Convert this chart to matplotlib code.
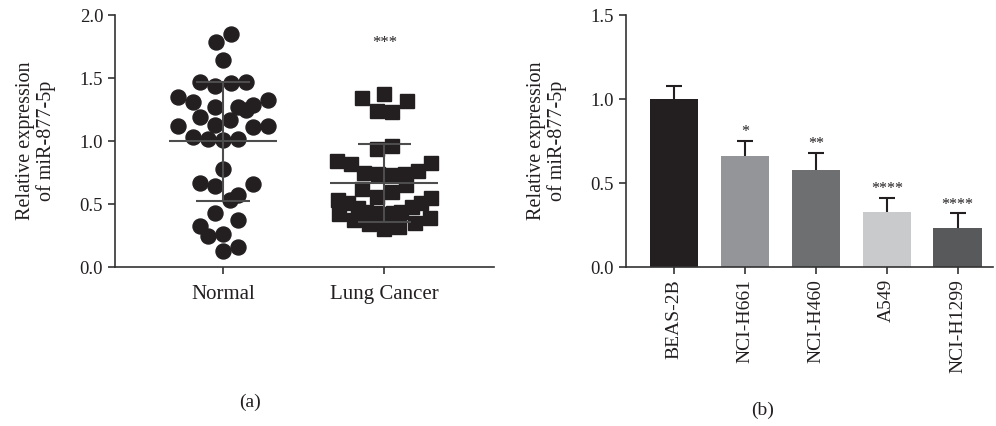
import matplotlib
matplotlib.use("Agg")
import matplotlib.pyplot as plt
import numpy as np

plt.rcParams['font.family'] = ['Liberation Serif', 'DejaVu Serif']

# (a) scatter: values, with horizontal spread (category units)
normal_vals = [1.85, 1.79, 1.64, 1.47, 1.44, 1.46, 1.47, 1.35, 1.31, 1.27, 1.27, 1.25,
               1.29, 1.33, 1.19, 1.17, 1.13, 1.12, 1.11, 1.12, 1.03, 1.02, 1.01, 1.02,
               0.78, 0.67, 0.64, 0.66, 0.57, 0.53, 0.43, 0.37, 0.33, 0.25, 0.26, 0.13, 0.16]
normal_jit = [0.048, -0.045, 0.0, -0.143, -0.048, 0.048, 0.141, -0.281, -0.188, -0.048,
              0.091, 0.139, 0.188, 0.280, -0.143, 0.045, -0.048, -0.281, 0.188, 0.280,
              -0.188, -0.093, 0.0, 0.091, 0.0, -0.143, -0.048, 0.188, 0.093, 0.043,
              -0.048, 0.091, -0.143, -0.093, 0.0, 0.0, 0.091]
cancer_vals = [1.34, 1.37, 1.32, 1.24, 1.23, 0.94, 0.96, 0.84, 0.82, 0.83, 0.75, 0.74,
               0.73, 0.74, 0.76, 0.65, 0.62, 0.56, 0.60, 0.53, 0.51, 0.55, 0.51, 0.48,
               0.47, 0.44, 0.43, 0.42, 0.43, 0.44, 0.42, 0.37, 0.34, 0.30, 0.32, 0.35, 0.39]
cancer_jit = [-0.141, 0.0, 0.140, -0.048, 0.047, -0.048, 0.047, -0.292, -0.209, 0.292,
              -0.124, -0.040, 0.043, 0.126, 0.207, 0.137, -0.141, -0.048, 0.047, -0.288,
              -0.226, 0.292, 0.230, 0.174, -0.164, -0.112, -0.050, 0.002, 0.053, 0.106,
              -0.282, -0.191, -0.096, -0.002, 0.091, 0.188, 0.281]
groups = ['Normal', 'Lung Cancer']

# (b) bars
cells = ['BEAS-2B', 'NCI-H661', 'NCI-H460', 'A549', 'NCI-H1299']
means = [1.00, 0.66, 0.58, 0.33, 0.23]
errs = [0.08, 0.09, 0.10, 0.08, 0.09]
stars = ['', '*', '**', '****', '****']
colors = ['#231f20', '#939598', '#6d6f70', '#c9cacb', '#58595b']

ylabel = 'Relative expression\nof miR-877-5p'
spine_c = '#333333'

fig = plt.figure(figsize=(9.96, 4.26), dpi=100)
ax1 = fig.add_axes([0.1155, 0.373, 0.3805, 0.5915])
ax2 = fig.add_axes([0.6285, 0.373, 0.3685, 0.5915])

for ax in (ax1, ax2):
    for s in ('top', 'right'):
        ax.spines[s].set_visible(False)
    for s in ('left', 'bottom'):
        ax.spines[s].set_color(spine_c)
        ax.spines[s].set_linewidth(1.2)
    ax.tick_params(direction='out', length=5, width=1.2, color=spine_c)
    ax.set_ylabel(ylabel, fontsize=14.5, color='#231f20', linespacing=1.05, labelpad=17)

# ---- (a)
nv = np.array(normal_vals)
cv = np.array(cancer_vals)
ax1.plot(0 + np.array(normal_jit), nv, 'o', ms=10.8, color='#231f20', mec='#231f20')
ax1.plot(1 + np.array(cancer_jit), cv, 's', ms=10, color='#231f20', mec='#231f20')
for i, v in enumerate([nv, cv]):
    m, sd = v.mean(), v.std(ddof=1)
    ax1.hlines(m, i - 0.335, i + 0.335, color='#4d4d4d', lw=1.5, zorder=3)
    ax1.hlines([m - sd, m + sd], i - 0.165, i + 0.165, color='#4d4d4d', lw=1.5, zorder=3)
    ax1.vlines(i, m - sd, m + sd, color='#4d4d4d', lw=1.5, zorder=3)
ax1.text(1, 1.78, '***', ha='center', va='center', fontsize=12, color='#231f20')
ax1.set_xlim(-0.67, 1.68)
ax1.set_ylim(0, 2.0)
ax1.set_yticks([0, 0.5, 1.0, 1.5, 2.0])
ax1.set_yticklabels(['0.0', '0.5', '1.0', '1.5', '2.0'], fontsize=13.5, color='#231f20')
ax1.set_xticks([0, 1])
ax1.set_xticklabels(groups, fontsize=15, color='#231f20')
ax1.tick_params(axis='x', pad=8)

# ---- (b)
x = np.arange(len(cells))
ax2.bar(x, means, width=0.68, color=colors, zorder=2)
eb = ax2.errorbar(x, means, yerr=[np.zeros(len(errs)), errs], fmt='none', ecolor='#231f20',
                  elinewidth=1.5, capsize=6, capthick=1.5, zorder=3)
eb[1][0].set_visible(False)  # no lower caps
for xi, m, e, s in zip(x, means, errs, stars):
    if s:
        ax2.text(xi, m + e + 0.052, s, ha='center', va='center', fontsize=11.5, color='#231f20')
ax2.set_xlim(-0.68, 4.5)
ax2.set_ylim(0, 1.5)
ax2.set_yticks([0, 0.5, 1.0, 1.5])
ax2.set_yticklabels(['0.0', '0.5', '1.0', '1.5'], fontsize=13.5, color='#231f20')
ax2.set_xticks(x)
ax2.set_xticklabels(cells, rotation=90, fontsize=14, color='#231f20')

fig.text(250 / 996, 1 - 402 / 426, '(a)', ha='center', va='center', fontsize=14, color='#231f20')
fig.text(763 / 996, 1 - 410 / 426, '(b)', ha='center', va='center', fontsize=14, color='#231f20')

fig.savefig('out.png', dpi=100)
